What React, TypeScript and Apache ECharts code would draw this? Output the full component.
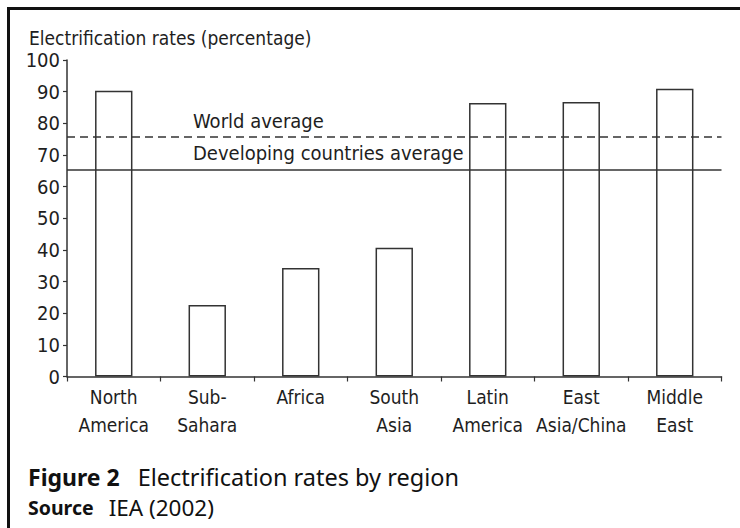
import React, { useEffect, useRef } from "react";
import * as echarts from "echarts";

const categories = [
  "North\nAmerica",
  "Sub-\nSahara",
  "Africa",
  "South\nAsia",
  "Latin\nAmerica",
  "East\nAsia/China",
  "Middle\nEast",
];
const rates = [90.3, 22.6, 34.3, 40.7, 86.4, 86.7, 90.9];
const worldAverage = 75.8;
const developingAverage = 65.3;
const lineLabels = ["World average", "Developing countries average"];

const FONT = "'DejaVu Sans Condensed', 'DejaVu Sans', sans-serif";
const CAP_FONT = "'Noto Sans', 'Open Sans', sans-serif";
const TEXT = "#1e1e1e";
const LINE = "#333";

export default function App() {
  const ref = useRef<HTMLDivElement>(null);
  useEffect(() => {
    if (!ref.current) return;
    const chart = echarts.init(ref.current, undefined, { renderer: "svg" });
    chart.setOption({
      animation: false,
      backgroundColor: "#fff",
      grid: { left: 67, top: 60, width: 654.5, height: 316.5 },
      xAxis: {
        type: "category",
        data: categories,
        axisLine: { lineStyle: { color: LINE, width: 1.5 } },
        axisTick: { show: true, length: 5, lineStyle: { color: LINE, width: 1.2 } },
        axisLabel: {
          color: TEXT,
          fontFamily: FONT,
          fontSize: 19,
          lineHeight: 28,
          margin: 6,
          interval: 0,
        },
      },
      yAxis: {
        type: "value",
        min: 0,
        max: 100,
        interval: 10,
        splitLine: { show: false },
        axisLine: { show: true, lineStyle: { color: LINE, width: 1.5 } },
        axisTick: { show: true, length: 4, lineStyle: { color: LINE, width: 1.2 } },
        axisLabel: { color: TEXT, fontFamily: FONT, fontSize: 20, margin: 7 },
      },
      series: [
        {
          type: "bar",
          data: rates,
          barWidth: "40%",
          itemStyle: { color: "#fff", borderColor: LINE, borderWidth: 1.5 },
          markLine: {
            silent: true,
            symbol: "none",
            label: { show: false },
            data: [
              { yAxis: worldAverage, lineStyle: { type: [8, 5], color: LINE, width: 1.5 } },
              { yAxis: developingAverage, lineStyle: { type: "solid", color: LINE, width: 1.5 } },
            ],
          },
        },
      ],
    });
    const yWorld = chart.convertToPixel({ yAxisIndex: 0 }, worldAverage) as number;
    const yDev = chart.convertToPixel({ yAxisIndex: 0 }, developingAverage) as number;
    chart.setOption({
      graphic: [
        {
          type: "line",
          shape: { x1: 7, y1: 8.5, x2: 740, y2: 8.5 },
          style: { stroke: "#111", lineWidth: 3 },
        },
        {
          type: "line",
          shape: { x1: 8.5, y1: 7, x2: 8.5, y2: 528 },
          style: { stroke: "#111", lineWidth: 3 },
        },
        {
          type: "text",
          x: 29,
          y: 38,
          style: {
            text: "Electrification rates (percentage)",
            fill: TEXT,
            font: `19px ${FONT}`,
            verticalAlign: "middle",
          },
        },
        {
          type: "text",
          x: 193,
          y: yWorld - 16,
          style: { text: lineLabels[0], fill: TEXT, font: `20px ${FONT}`, verticalAlign: "middle" },
        },
        {
          type: "text",
          x: 193,
          y: yDev - 16.5,
          style: { text: lineLabels[1], fill: TEXT, font: `20px ${FONT}`, verticalAlign: "middle" },
        },
        {
          type: "text",
          x: 28,
          y: 476.5,
          style: {
            text: "{b|Figure 2}{r|Electrification rates by region}",
            verticalAlign: "middle",
            rich: {
              b: { fontFamily: CAP_FONT, fontWeight: "bold", fontSize: 23, fill: "#111" },
              r: { fontFamily: CAP_FONT, fontSize: 23.5, fill: "#111", padding: [0, 0, 0, 18] },
            },
          },
        },
        {
          type: "text",
          x: 28,
          y: 507.5,
          style: {
            text: "{b|Source}{r|IEA (2002)}",
            verticalAlign: "middle",
            rich: {
              b: { fontFamily: CAP_FONT, fontWeight: "bold", fontSize: 19.5, fill: "#111" },
              r: { fontFamily: CAP_FONT, fontSize: 22.5, fill: "#111", padding: [0, 0, 0, 15] },
            },
          },
        },
      ],
    });
    return () => chart.dispose();
  }, []);
  return (
    <div
      ref={ref}
      style={{ position: "fixed", left: 0, top: 0, width: 740, height: 528, background: "#fff" }}
    />
  );
}
